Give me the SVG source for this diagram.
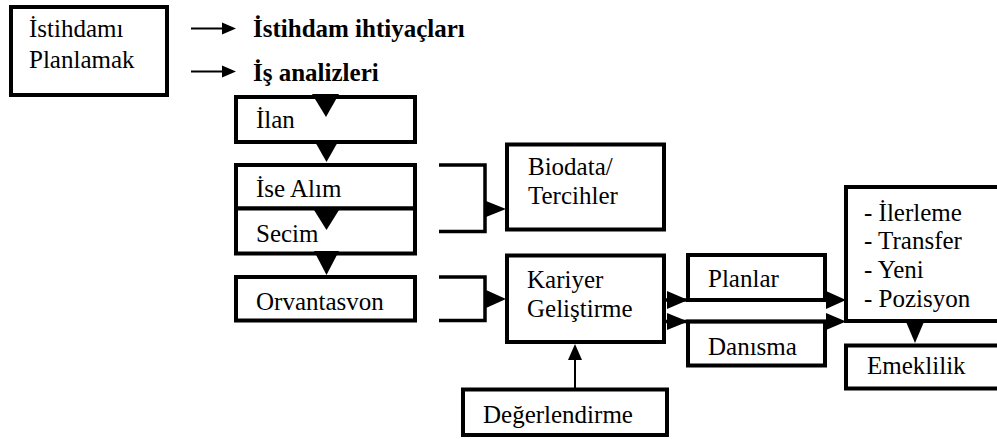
<svg xmlns="http://www.w3.org/2000/svg" width="997" height="439" viewBox="0 0 997 439">
<style>
.box{fill:#fff;stroke:#000;stroke-width:4}
text{font-family:'Liberation Serif',serif;font-size:25px;fill:#000}
.b{font-weight:bold}
.ln{fill:none;stroke:#000;stroke-width:3.5}
.thin{fill:none;stroke:#000;stroke-width:2}
.ah{fill:#000;stroke:none}
</style>
<rect width="997" height="439" fill="#fff"/>
<g id="planlamak">
<rect class="box" x="11" y="7" width="156" height="88"/>
<text x="29" y="37" font-family="Liberation Serif, serif">İstihdamı</text>
<text x="29" y="68" font-family="Liberation Serif, serif">Planlamak</text>
</g>
<g id="ihtiyaclar"><text class="b" x="253" y="37" font-family="Liberation Serif, serif">İstihdam ihtiyaçları</text></g>
<g id="analizler"><text class="b" x="253" y="81" font-family="Liberation Serif, serif">İş analizleri</text></g>
<g id="ilan">
<rect class="box" x="236" y="97" width="179" height="45"/>
<text x="256" y="128" font-family="Liberation Serif, serif">İlan</text>
</g>
<g id="isealim">
<rect class="box" x="236" y="165" width="179" height="43.5"/>
<text x="256" y="197" font-family="Liberation Serif, serif">İse Alım</text>
</g>
<g id="secim">
<rect class="box" x="236" y="208.5" width="179" height="45"/>
<text x="256" y="242" font-family="Liberation Serif, serif">Secim</text>
</g>
<g id="orvantasvon">
<rect class="box" x="236" y="277" width="179" height="43.5"/>
<text x="256" y="310" font-family="Liberation Serif, serif">Orvantasvon</text>
</g>
<g id="biodata">
<rect class="box" x="507" y="144.5" width="157" height="85"/>
<text x="528" y="175" font-family="Liberation Serif, serif">Biodata/</text>
<text x="528" y="204" font-family="Liberation Serif, serif">Tercihler</text>
</g>
<g id="kariyer">
<rect class="box" x="507" y="255.5" width="157" height="86.5"/>
<text x="527" y="288" font-family="Liberation Serif, serif">Kariyer</text>
<text x="527" y="317" font-family="Liberation Serif, serif">Geliştirme</text>
</g>
<g id="planlar">
<rect class="box" x="688" y="255" width="137" height="45"/>
<text x="708" y="287" font-family="Liberation Serif, serif">Planlar</text>
</g>
<g id="danisma">
<rect class="box" x="688" y="321.5" width="137" height="44"/>
<text x="708" y="355" font-family="Liberation Serif, serif">Danısma</text>
</g>
<g id="ilerleme">
<rect class="box" x="846" y="187" width="200" height="134"/>
<text x="864" y="221" font-family="Liberation Serif, serif">- İlerleme</text>
<text x="864" y="249" font-family="Liberation Serif, serif">- Transfer</text>
<text x="864" y="277.5" font-family="Liberation Serif, serif">- Yeni</text>
<text x="864" y="306.5" font-family="Liberation Serif, serif">- Pozisyon</text>
</g>
<g id="emeklilik">
<rect class="box" x="846" y="345.5" width="200" height="43"/>
<text x="867" y="374" font-family="Liberation Serif, serif">Emeklilik</text>
</g>
<g id="degerlendirme">
<rect class="box" x="463" y="389.5" width="204" height="45.5"/>
<text x="483" y="423" font-family="Liberation Serif, serif">Değerlendirme</text>
</g>
<g id="connectors">
<line class="thin" x1="191" y1="28.5" x2="224" y2="28.5"/>
<polygon class="ah" points="222,22.5 236,28.5 222,34.5"/>
<line class="thin" x1="191" y1="71.5" x2="224" y2="71.5"/>
<polygon class="ah" points="222,65.5 236,71.5 222,77.5"/>
<polygon class="ah" points="312,94 339,94 326,117"/>
<polygon class="ah" points="314,140 339,140 326.5,162"/>
<polygon class="ah" points="314,210 339,210 326.5,230"/>
<polygon class="ah" points="314,251 339,251 326.5,275"/>
<polyline class="ln" points="439,165 485,165 485,231.5 439,231.5"/>
<polygon class="ah" points="486,201 506,209 486,217"/>
<polyline class="ln" points="439,277 485,277 485,320.5 439,320.5"/>
<polygon class="ah" points="486,290 506,299 486,308"/>
<line class="ln" x1="664" y1="300" x2="830" y2="300"/>
<line class="ln" x1="664" y1="321.5" x2="830" y2="321.5"/>
<polygon class="ah" points="667,291 688,300 667,309"/>
<polygon class="ah" points="667,313 688,321.5 667,330"/>
<polygon class="ah" points="826,291 846,300 826,309"/>
<polygon class="ah" points="826,313 846,321.5 826,330"/>
<polygon class="ah" points="906.5,323 923.5,323 915,343"/>
<line class="thin" x1="575" y1="389" x2="575" y2="355"/>
<polygon class="ah" points="568,360 582,360 575,344"/>
</g>
</svg>
